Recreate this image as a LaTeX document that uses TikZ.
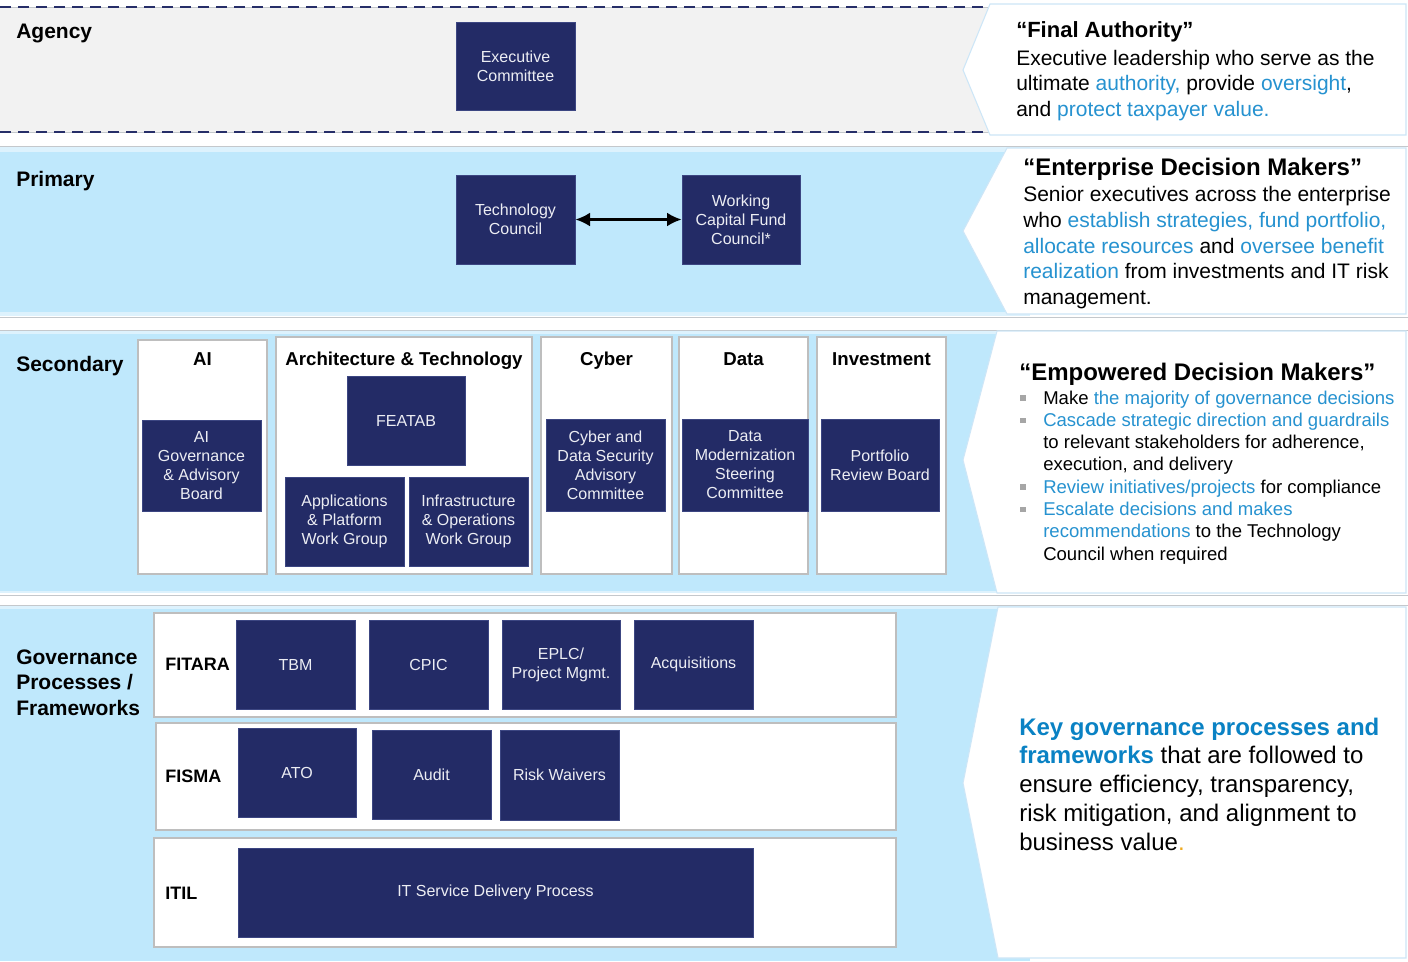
\documentclass[tikz,border=0pt]{standalone}
\usepackage{fontspec}
\setmainfont{Liberation Sans}
\usetikzlibrary{arrows.meta}
\definecolor{navy}{RGB}{35,43,102}
\definecolor{navyedge}{RGB}{60,70,130}
\definecolor{navytext}{RGB}{236,237,243}
\definecolor{bandblue}{RGB}{191,232,252}
\definecolor{stripblue}{RGB}{221,242,253}
\definecolor{bandgray}{RGB}{242,242,242}
\definecolor{txtblue}{RGB}{38,146,208}
\definecolor{keyblue}{RGB}{10,130,196}
\definecolor{bulletgray}{RGB}{166,166,166}
\definecolor{panelline}{RGB}{205,230,247}
\definecolor{sepgray}{RGB}{196,200,204}
\definecolor{colline}{RGB}{190,190,190}
\definecolor{dashnavy}{RGB}{38,46,104}
\definecolor{dotorange}{RGB}{240,170,30}
\newcommand\bl[1]{\textcolor{txtblue}{#1}}
\tikzset{
 navybox/.style={fill=navy, draw=navyedge, line width=0.5pt, text=navytext, align=center, inner sep=0pt, font=\fontsize{12pt}{14.25pt}\selectfont},
 whitebox/.style={fill=white, draw=colline, line width=0.9pt, inner sep=0pt},
 tierlabel/.style={anchor=base west, inner sep=0pt, align=left, font=\bfseries\fontsize{15.75pt}{19.35pt}\selectfont},
 coltitle/.style={anchor=base, inner sep=0pt, font=\bfseries\fontsize{14pt}{16pt}\selectfont},
 rowlabel/.style={anchor=base west, inner sep=0pt, font=\bfseries\fontsize{13.5pt}{16pt}\selectfont},
 panel/.style={fill=white, draw=panelline, line width=0.8pt},
 phead/.style={anchor=base west, inner sep=0pt, font=\bfseries\fontsize{18pt}{21pt}\selectfont},
 ptext/.style={anchor=base west, inner sep=0pt, align=left},
 sepline/.style={draw=sepgray, line width=0.7pt},
 dashline/.style={draw=dashnavy, line width=1.6pt, dash pattern=on 8pt off 5.5pt},
 bulletsq/.style={fill=bulletgray, inner sep=0pt, minimum size=4pt},
 link/.style={line width=2pt, {Latex[length=11pt,width=10.5pt]}-{Latex[length=11pt,width=10.5pt]}},
}
\newcommand\NBox[6]{\node[navybox, minimum width={(#4-#2)*0.75pt}, minimum height={(#5-#3)*0.75pt}] (#1) at ({(#2+#4)/2},{(#3+#5)/2}) {#6};}
\newcommand\WBox[5]{\node[whitebox, minimum width={(#4-#2)*0.75pt}, minimum height={(#5-#3)*0.75pt}] (#1) at ({(#2+#4)/2},{(#3+#5)/2}) {};}
\begin{document}
\begin{tikzpicture}[x=0.75pt,y=-0.75pt]
\useasboundingbox (0,0) rectangle (1408,961);
\fill[white] (0,0) rectangle (1408,961);
% ---------- bands ----------
\fill[bandgray] (0,7) rectangle (1000,132);
\draw[sepgray, line width=0.5pt] (0,7) -- (990,7) (0,132) -- (990,132);
\draw[dashline] (0,7) -- (990,7);
\draw[dashline] (0,132) -- (990,132);
\fill[stripblue] (0,147) rectangle (1030,316);
\fill[bandblue] (0,152) rectangle (1030,312);
\fill[stripblue] (0,331) rectangle (1030,593);
\fill[bandblue] (0,334) rectangle (1030,591);
\fill[stripblue] (0,606) rectangle (1030,961);
\fill[bandblue] (0,609) rectangle (1030,961);
\draw[sepline] (0,146) -- (1408,146);
\draw[sepline] (0,317) -- (1408,317);
\draw[sepline] (0,330) -- (1408,330);
\draw[sepline] (0,595) -- (1408,595);
\draw[sepline] (0,605) -- (1408,605);
% ---------- right panels ----------
\draw[panel] (990,4) -- (1406,4) -- (1406,135) -- (990,135) -- (963,70) -- cycle;
\draw[panel] (1007,148) -- (1406,148) -- (1406,314) -- (1007,314) -- (963,231) -- cycle;
\draw[panel] (997,331) -- (1406,331) -- (1406,593) -- (997,593) -- (963,460) -- cycle;
\draw[panel] (998,607) -- (1406,607) -- (1406,958) -- (998,958) -- (963,783) -- cycle;
% ---------- tier labels ----------
\node[tierlabel] (lagency) at (16,38) {Agency};
\node[tierlabel] (lprimary) at (16,186.5) {Primary};
\node[tierlabel] (lsecondary) at (16,371) {Secondary};
\node[tierlabel] (lgov) at (16,715.6) {Governance\\Processes /\\Frameworks};
% ---------- agency / primary ----------
\NBox{exec}{456}{22}{575}{110}{Executive\\Committee}
\NBox{tc}{456}{175}{575}{264}{Technology\\Council}
\NBox{wcf}{682}{175}{800}{264}{Working\\Capital Fund\\Council*}
\draw[link] (tc.east) -- (wcf.west);
% ---------- secondary ----------
\WBox{colai}{138}{340}{267}{574}
\WBox{colat}{276}{337}{532}{574}
\WBox{colcy}{541}{337}{672}{574}
\WBox{colda}{679}{337}{808}{574}
\WBox{colin}{817}{337}{946}{574}
\node[coltitle] (tai) at (202.5,365) {AI};
\node[coltitle] (tat) at (404,365) {Architecture \& Technology};
\node[coltitle] (tcy) at (606.5,365) {Cyber};
\node[coltitle] (tda) at (743.5,365) {Data};
\node[coltitle] (tin) at (881.5,365) {Investment};
\NBox{aigab}{142}{420}{261}{511}{AI\\Governance\\\& Advisory\\Board}
\NBox{featab}{347}{376}{465}{465}{FEATAB}
\NBox{apwg}{285}{477}{404}{566}{Applications\\\& Platform\\Work Group}
\NBox{iowg}{409}{477}{528}{566}{Infrastructure\\\& Operations\\Work Group}
\NBox{cdsac}{546}{419}{665}{511}{Cyber and\\Data Security\\Advisory\\Committee}
\NBox{dmsc}{682}{419}{808}{511}{Data\\Modernization\\Steering\\Committee}
\NBox{prb}{821}{419}{939}{511}{Portfolio\\Review Board}
% ---------- governance ----------
\WBox{rfitara}{154}{613}{896}{717}
\WBox{rfisma}{156}{723}{896}{830}
\WBox{ritil}{154}{838}{896}{947}
\node[rowlabel] (lfitara) at (165,670) {FITARA};
\node[rowlabel] (lfisma) at (165,782) {FISMA};
\node[rowlabel] (litil) at (165,899) {ITIL};
\NBox{tbm}{236}{620}{355}{709}{TBM}
\NBox{cpic}{369}{620}{488}{709}{CPIC}
\NBox{eplc}{502}{620}{620}{709}{EPLC/\\Project Mgmt.}
\NBox{acq}{634}{620}{753}{709}{Acquisitions}
\NBox{ato}{238}{728}{356}{817}{ATO}
\NBox{audit}{372}{730}{491}{819}{Audit}
\NBox{risk}{500}{730}{619}{820}{Risk Waivers}
\NBox{itsdp}{238}{848}{753}{937}{IT Service Delivery Process}
% ---------- panel texts ----------
\node[phead, font=\bfseries\fontsize{16.5pt}{19pt}\selectfont] (p1h) at (1016,37.5) {“Final Authority”};
\node[ptext, font=\fontsize{15.75pt}{19.35pt}\selectfont] (p1b) at (1016,116.6) {Executive leadership who serve as the\\ultimate \bl{authority,} provide \bl{oversight},\\and \bl{protect taxpayer value.}};
\node[phead] (p2h) at (1023,175) {“Enterprise Decision Makers”};
\node[ptext, font=\fontsize{15.75pt}{19.35pt}\selectfont] (p2b) at (1023,304.7) {Senior executives across the enterprise\\who \bl{establish strategies, fund portfolio,}\\\bl{allocate resources} and \bl{oversee benefit}\\\bl{realization} from investments and IT risk\\management.};
\node[phead] (p3h) at (1019,380) {“Empowered Decision Makers”};
\node[ptext, font=\fontsize{13.9pt}{16.72pt}\selectfont] (p3b) at (1043,560.1) {Make \bl{the majority of governance decisions}\\\bl{Cascade strategic direction and guardrails}\\to relevant stakeholders for adherence,\\execution, and delivery\\\bl{Review initiatives/projects} for compliance\\\bl{Escalate decisions and makes}\\\bl{recommendations} to the Technology\\Council when required};
\node[bulletsq] (b1) at (1023,398) {};
\node[bulletsq] (b2) at (1023,420.3) {};
\node[bulletsq] (b3) at (1023,487) {};
\node[bulletsq] (b4) at (1023,509.3) {};
\node[ptext, font=\fontsize{18pt}{21.56pt}\selectfont] (p4b) at (1019,850) {\textbf{\textcolor{keyblue}{Key governance processes and}}\\\textbf{\textcolor{keyblue}{frameworks}} that are followed to\\ensure efficiency, transparency,\\risk mitigation, and alignment to\\business value\textcolor{dotorange}{.}};
\end{tikzpicture}
\end{document}
